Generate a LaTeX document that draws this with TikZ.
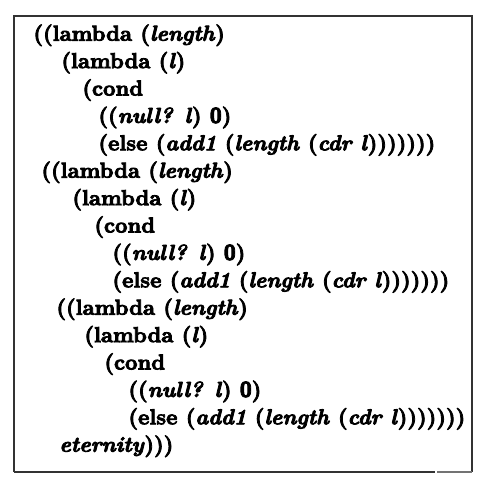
\documentclass[tikz,border=0pt]{standalone}
\newcommand{\heavy}[1]{\special{pdf:literal direct 2 Tr 0.4 w}#1\special{pdf:literal direct 0 Tr}}
\begin{document}
\begin{tikzpicture}[x=0.5pt,y=-0.5pt,
  codeline/.style={anchor=base west, inner sep=0pt, font=\fontsize{10.8}{12}\selectfont\bfseries},
  framepen/.style={draw=black!80, line width=0.8pt}]
\newcommand{\vv}[1]{\textit{#1}}
\newcommand{\zro}{\textsf{0}}
\useasboundingbox (0,0) rectangle (492,483);
% frame
\draw[framepen] (14,472) -- (14,16) -- (472,16) -- (472,472);
\draw[framepen] (14,472) -- (435,472);
\draw[draw=black!55, line width=0.8pt] (437,472) -- (472,472);
% lines
\node[codeline] (l1)  at (33, 40.7) {\heavy{((lambda (\vv{length})}};
\node[codeline] (l2)  at (61, 68.1) {\heavy{(lambda (\vv{l})}};
\node[codeline] (l3)  at (82, 95.5) {\heavy{(cond}};
\node[codeline] (l4)  at (98,122.9) {\heavy{((\vv{null? l}) \zro)}};
\node[codeline] (l5)  at (98,150.3) {\heavy{(else (\vv{add1} (\vv{length} (\vv{cdr l})))))))}};
\node[codeline] (l6)  at (41, 177.7) {\heavy{((lambda (\vv{length})}};
\node[codeline] (l7)  at (72, 205.1) {\heavy{(lambda (\vv{l})}};
\node[codeline] (l8)  at (94, 232.5) {\heavy{(cond}};
\node[codeline] (l9)  at (112,259.9) {\heavy{((\vv{null? l}) \zro)}};
\node[codeline] (l10) at (112,287.3) {\heavy{(else (\vv{add1} (\vv{length} (\vv{cdr l})))))))}};
\node[codeline] (l11) at (56, 314.7) {\heavy{((lambda (\vv{length})}};
\node[codeline] (l12) at (84, 342.1) {\heavy{(lambda (\vv{l})}};
\node[codeline] (l13) at (104,369.5) {\heavy{(cond}};
\node[codeline] (l14) at (128,396.9) {\heavy{((\vv{null? l}) \zro)}};
\node[codeline] (l15) at (128,424.3) {\heavy{(else (\vv{add1} (\vv{length} (\vv{cdr l})))))))}};
\node[codeline] (l16) at (59, 451.7) {\heavy{\vv{eternity})))}};
\end{tikzpicture}
\end{document}
